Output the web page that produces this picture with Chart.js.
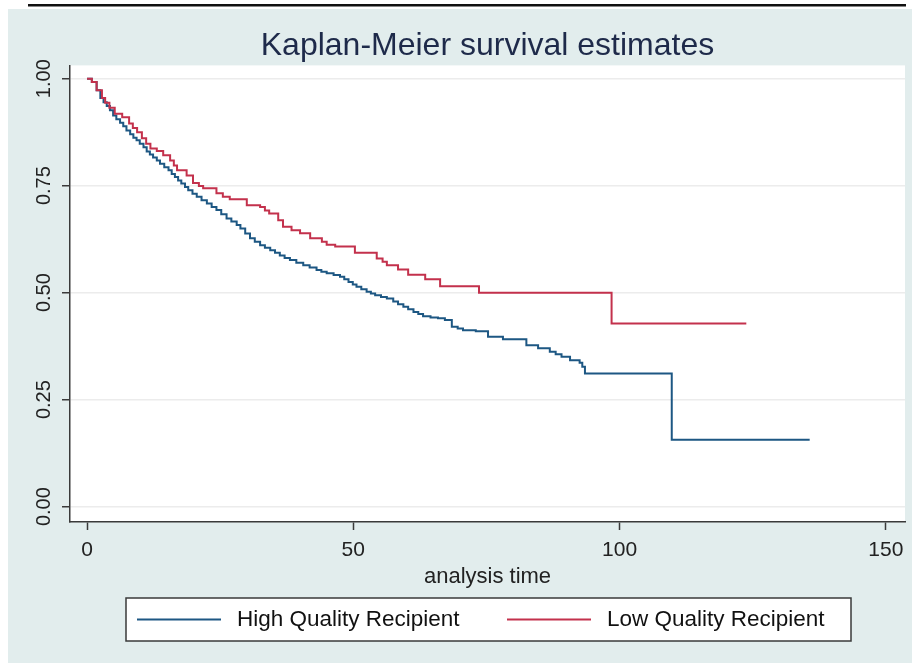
<!DOCTYPE html>
<html>
<head>
<meta charset="utf-8">
<title>Kaplan-Meier survival estimates</title>
<script src="https://cdn.jsdelivr.net/npm/chart.js@4.4.1/dist/chart.umd.min.js"></script>
<style>
  html, body { margin: 0; padding: 0; background: #ffffff; }
  #wrap { width: 912px; height: 663px; position: relative; }
  canvas { display: block; }
</style>
</head>
<body>
<div id="wrap"><canvas id="km" width="912" height="663"></canvas></div>
<script>
// Kaplan-Meier survival curves by recipient quality group

// Series names
const seriesNames = ['High Quality Recipient', 'Low Quality Recipient'];

// High quality group: analysis time of each step and survival after the step
const timeHigh = [0, 0.9, 1.8, 2.5, 3.1, 3.7, 4.3, 4.9, 5.5, 6.2,
  6.8, 7.4, 8.1, 8.7, 9.3, 9.9, 10.6, 11.2, 11.8, 12.4,
  13.1, 13.7, 14.5, 15.3, 15.9, 16.5, 17.1, 17.7, 18.4, 19.0,
  19.8, 20.6, 21.5, 22.5, 23.4, 24.3, 25.2, 26.2, 27.1, 28.1,
  28.8, 29.7, 30.6, 31.5, 32.5, 33.4, 34.4, 35.3, 36.2, 37.1,
  38.1, 39.3, 40.6, 41.8, 43.1, 44.0, 45.0, 46.3, 47.5, 48.3,
  49.1, 49.9, 50.6, 51.5, 52.5, 53.3, 54.1, 55.2, 56.3, 57.5,
  58.4, 59.4, 60.3, 61.3, 62.2, 63.1, 64.5, 65.9, 67.2, 68.5,
  69.6, 70.6, 73.0, 75.3, 78.1, 82.5, 84.7, 86.9, 88.0, 89.1,
  90.7, 92.5, 93.0, 93.5, 109.8, 135.7];
const survHigh = [1, 0.992, 0.973, 0.955, 0.945, 0.936, 0.926, 0.914, 0.905, 0.897,
  0.889, 0.879, 0.870, 0.862, 0.856, 0.848, 0.840, 0.830, 0.823, 0.816,
  0.809, 0.801, 0.793, 0.786, 0.777, 0.770, 0.762, 0.755, 0.747, 0.739,
  0.731, 0.724, 0.716, 0.708, 0.700, 0.693, 0.683, 0.673, 0.666, 0.658,
  0.650, 0.638, 0.627, 0.619, 0.611, 0.605, 0.599, 0.593, 0.587, 0.581,
  0.576, 0.570, 0.564, 0.559, 0.553, 0.549, 0.545, 0.541, 0.537, 0.531,
  0.525, 0.519, 0.514, 0.508, 0.502, 0.498, 0.494, 0.490, 0.486, 0.479,
  0.473, 0.467, 0.461, 0.455, 0.450, 0.445, 0.442, 0.440, 0.436, 0.420,
  0.416, 0.412, 0.410, 0.397, 0.391, 0.377, 0.370, 0.362, 0.356, 0.350,
  0.342, 0.336, 0.327, 0.311, 0.156, 0.156];

// Low quality group
const timeLow = [0, 0.9, 1.8, 2.8, 3.4, 4.2, 5.2, 6.6, 7.9, 8.6, 9.4,
  10.3, 11.1, 11.9, 13.1, 14.3, 15.6, 16.3, 16.9, 18.7, 19.9,
  21.0, 21.8, 24.3, 25.5, 26.8, 30.0, 32.5, 33.4, 34.2, 35.9,
  36.8, 38.4, 40.0, 41.9, 44.1, 45.0, 46.6, 50.3, 54.4, 55.5,
  56.3, 58.4, 60.3, 63.5, 66.3, 73.6, 98.5, 123.8];
const survLow = [1, 0.992, 0.973, 0.955, 0.944, 0.932, 0.918, 0.910, 0.895, 0.885, 0.875,
  0.861, 0.848, 0.837, 0.831, 0.821, 0.809, 0.797, 0.786, 0.774, 0.756,
  0.749, 0.744, 0.732, 0.724, 0.718, 0.704, 0.700, 0.692, 0.685, 0.669,
  0.654, 0.646, 0.639, 0.627, 0.619, 0.612, 0.608, 0.593, 0.580, 0.572,
  0.564, 0.554, 0.542, 0.531, 0.515, 0.500, 0.428, 0.428];

// Axis ticks and labels
const xTicks = [0, 50, 100, 150];
const yTicks = [0, 0.25, 0.5, 0.75, 1];
const yTickLabels = ['0.00', '0.25', '0.50', '0.75', '1.00'];

const seriesColors = ['#1d5783', '#c3314c'];
const FONT = "'Liberation Sans', Arial, sans-serif";

const toPoints = (ts, ss) => ts.map((t, i) => ({ x: t, y: ss[i] }));

// Panel background, plot region, rotated y labels and the legend box
const decor = {
  id: 'decor',
  beforeDraw(chart) {
    const { ctx, chartArea: a } = chart;
    ctx.save();
    ctx.fillStyle = '#ffffff';
    ctx.fillRect(0, 0, chart.width, chart.height);
    ctx.fillStyle = '#e2eded';
    ctx.fillRect(8, 9, chart.width - 8, chart.height - 9);
    ctx.fillStyle = '#111111';
    ctx.fillRect(28, 4, 878, 2.5);
    ctx.fillStyle = '#ffffff';
    ctx.fillRect(a.left, a.top, a.right - a.left, a.bottom - a.top);
    ctx.restore();
  },
  afterDraw(chart) {
    const { ctx, chartArea: a } = chart;
    const ys = chart.scales.y;
    ctx.save();
    ctx.fillStyle = '#222222';
    ctx.font = '20px ' + FONT;
    ctx.textAlign = 'center';
    ctx.textBaseline = 'middle';
    yTicks.forEach((v, i) => {
      const py = ys.getPixelForValue(v);
      ctx.save();
      ctx.translate(44, py);
      ctx.rotate(-Math.PI / 2);
      ctx.fillText(yTickLabels[i], 0, 0);
      ctx.restore();
    });

    const cx = (a.left + a.right) / 2;
    const boxW = 725, boxTop = 598, boxH = 43;
    const bx = cx - boxW / 2 + 1;
    ctx.fillStyle = '#ffffff';
    ctx.fillRect(bx, boxTop, boxW, boxH);
    ctx.strokeStyle = '#3a3a3a';
    ctx.lineWidth = 1.5;
    ctx.strokeRect(bx, boxTop, boxW, boxH);
    const midY = boxTop + boxH / 2;
    ctx.font = '22.5px ' + FONT;
    ctx.textAlign = 'left';
    ctx.fillStyle = '#111111';
    const itemX = [bx + 11, bx + 381];
    seriesNames.forEach((name, i) => {
      ctx.strokeStyle = seriesColors[i];
      ctx.lineWidth = 2;
      ctx.beginPath();
      ctx.moveTo(itemX[i], midY);
      ctx.lineTo(itemX[i] + 84, midY);
      ctx.stroke();
      ctx.fillText(name, itemX[i] + 100, midY);
    });
    ctx.restore();
  }
};

new Chart(document.getElementById('km'), {
  type: 'scatter',
  data: {
    datasets: [
      {
        label: seriesNames[0],
        data: toPoints(timeHigh, survHigh),
        showLine: true,
        stepped: 'before',
        borderColor: seriesColors[0],
        borderWidth: 2,
        pointRadius: 0,
        fill: false,
        order: 1
      },
      {
        label: seriesNames[1],
        data: toPoints(timeLow, survLow),
        showLine: true,
        stepped: 'before',
        borderColor: seriesColors[1],
        borderWidth: 2,
        pointRadius: 0,
        fill: false,
        order: 0
      }
    ]
  },
  options: {
    responsive: false,
    animation: false,
    devicePixelRatio: 1,
    layout: { padding: { left: 0, right: 7, top: 0, bottom: 71 } },
    plugins: {
      legend: { display: false },
      tooltip: { enabled: false },
      title: {
        display: true,
        text: 'Kaplan-Meier survival estimates',
        color: '#1e2a4a',
        font: { family: FONT, size: 32, weight: 'normal', lineHeight: 1.2 },
        padding: { top: 27, bottom: 0 },
        fullSize: false
      }
    },
    scales: {
      x: {
        type: 'linear',
        min: -3.2,
        max: 153.6,
        afterBuildTicks: s => { s.ticks = xTicks.map(v => ({ value: v })); },
        afterFit: s => { s.height = 70; },
        border: { display: true, color: '#3a3a3a', width: 1.5 },
        grid: { drawOnChartArea: false, drawTicks: true, tickLength: 8, tickColor: '#3a3a3a', tickWidth: 1.5 },
        ticks: { color: '#222222', font: { family: FONT, size: 21 }, padding: 8, maxRotation: 0 },
        title: {
          display: true,
          text: 'analysis time',
          color: '#222222',
          font: { family: FONT, size: 22, lineHeight: 1.2 },
          padding: { top: 0, bottom: 2 }
        }
      },
      y: {
        type: 'linear',
        min: -0.036,
        max: 1.031,
        afterBuildTicks: s => { s.ticks = yTicks.map(v => ({ value: v })); },
        afterFit: s => { s.width = 70; },
        border: { display: true, color: '#3a3a3a', width: 1.5 },
        grid: { drawOnChartArea: true, color: '#ececec', lineWidth: 1.5, drawTicks: true, tickLength: 8, tickColor: '#3a3a3a', tickWidth: 1.5 },
        ticks: { display: false }
      }
    }
  },
  plugins: [decor]
});
</script>
</body>
</html>
